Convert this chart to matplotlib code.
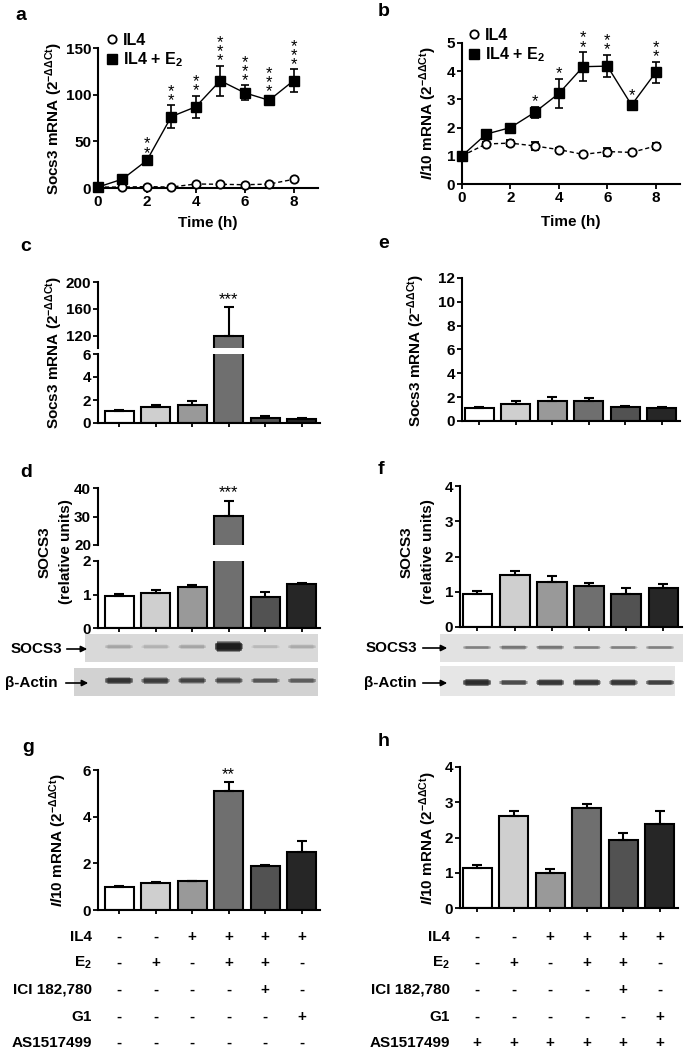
import numpy as np
import matplotlib
matplotlib.use("Agg")
import matplotlib.pyplot as plt
from matplotlib.lines import Line2D
from matplotlib.patches import FancyArrowPatch
from matplotlib.transforms import blended_transform_factory

# --- datos ---
time_h = [0, 1, 2, 3, 4, 5, 6, 7, 8]

socs3_il4 = [1, 1, 1.5, 1, 4.3, 4, 3.5, 4.2, 9.3]
socs3_il4_err = [0.3, 0.5, 0.6, 0.5, 1.0, 0.8, 0.8, 0.8, 1.5]
socs3_e2 = [1, 9.5, 29.6, 76.5, 87, 115, 102, 94, 115]
socs3_e2_err = [0.5, 1.5, 2.5, 12, 12, 16, 8, 4, 12]
socs3_stars = ["", "", "**", "**", "**", "***", "***", "***", "***"]

il10_il4 = [1, 1.42, 1.45, 1.35, 1.22, 1.05, 1.15, 1.12, 1.35]
il10_il4_err = [0.05, 0.06, 0.12, 0.13, 0.05, 0.05, 0.14, 0.05, 0.12]
il10_e2 = [1, 1.77, 2.0, 2.54, 3.21, 4.16, 4.18, 2.8, 3.96]
il10_e2_err = [0.06, 0.08, 0.1, 0.2, 0.52, 0.52, 0.4, 0.16, 0.38]
il10_stars = ["", "", "", "*", "*", "**", "**", "*", "**"]

lanes = [0, 1, 2, 3, 4, 5]
bar_colors = ["white", "#cfcfcf", "#999999", "#6f6f6f", "#525252", "#262626"]

c_vals = [1.05, 1.35, 1.6, 120, 0.45, 0.35]
c_err = [0.1, 0.2, 0.3, 43, 0.15, 0.05]
e_vals = [1.05, 1.45, 1.65, 1.7, 1.2, 1.1]
e_err = [0.12, 0.25, 0.4, 0.22, 0.08, 0.08]
d_vals = [0.95, 1.04, 1.23, 30.2, 0.92, 1.3]
d_err = [0.06, 0.1, 0.04, 5.4, 0.15, 0.04]
f_vals = [0.95, 1.47, 1.28, 1.16, 0.95, 1.11]
f_err = [0.07, 0.11, 0.17, 0.1, 0.17, 0.12]
g_vals = [1.0, 1.15, 1.24, 5.1, 1.88, 2.5]
g_err = [0.03, 0.05, 0.02, 0.38, 0.05, 0.45]
h_vals = [1.13, 2.6, 1.0, 2.83, 1.93, 2.38]
h_err = [0.09, 0.15, 0.1, 0.12, 0.2, 0.38]

# intensidad (0-1) y grosor relativo de cada banda del western blot
d_socs3_band = [0.25, 0.18, 0.25, 0.92, 0.15, 0.22]
d_socs3_thick = [0.11, 0.11, 0.11, 0.26, 0.1, 0.11]
d_actin_band = [0.8, 0.75, 0.72, 0.7, 0.62, 0.58]
d_actin_thick = [0.17, 0.16, 0.15, 0.15, 0.13, 0.13]
f_socs3_band = [0.45, 0.5, 0.5, 0.45, 0.45, 0.45]
f_socs3_thick = [0.09, 0.1, 0.1, 0.09, 0.09, 0.09]
f_actin_band = [0.85, 0.7, 0.8, 0.8, 0.8, 0.75]
f_actin_thick = [0.16, 0.13, 0.15, 0.15, 0.15, 0.13]

row_labels = ["IL4", r"E$_{\mathrm{2}}$", "ICI 182,780", "G1", "AS1517499"]
il4_row = ["-", "-", "+", "+", "+", "+"]
e2_row = ["-", "+", "-", "+", "+", "-"]
ici_row = ["-", "-", "-", "-", "+", "-"]
g1_row = ["-", "-", "-", "-", "-", "+"]
as_left_row = ["-", "-", "-", "-", "-", "-"]
as_right_row = ["+", "+", "+", "+", "+", "+"]

# --- estilo ---
plt.rcParams.update({
    "font.family": ["Liberation Sans", "DejaVu Sans"],
    "font.weight": "bold",
    "axes.labelweight": "bold",
    "mathtext.fontset": "custom",
    "mathtext.rm": "Liberation Sans:bold",
    "mathtext.bf": "Liberation Sans:bold",
    "mathtext.it": "Liberation Sans:italic:bold",
    "axes.linewidth": 1.5,
    "xtick.major.width": 1.3,
    "ytick.major.width": 1.3,
    "xtick.major.size": 3.5,
    "ytick.major.size": 3.5,
    "xtick.labelsize": 11,
    "ytick.labelsize": 11,
    "xtick.major.pad": 1.5,
    "ytick.major.pad": 1.5,
})

W, H = 685, 1053
fig = plt.figure(figsize=(W / 100, H / 100), dpi=100)


def rect(x0, y0, x1, y1):
    return [x0 / W, 1 - y1 / H, (x1 - x0) / W, (y1 - y0) / H]


def ftext(x, y, s, **kw):
    fig.text(x / W, 1 - y / H, s, **kw)


def clean(ax, bottom=True):
    ax.spines["right"].set_visible(False)
    ax.spines["top"].set_visible(False)
    ax.spines["bottom"].set_visible(bottom)


def bars(ax, vals, err, xlim, ylim, yticks, xaxis=True):
    ax.bar(lanes, vals, width=0.8, color=bar_colors, edgecolor="black",
           linewidth=1.5, yerr=[np.zeros(6), err], capsize=3.5,
           error_kw=dict(elinewidth=1.5, capthick=1.5, ecolor="black"))
    ax.set_xlim(*xlim)
    ax.set_ylim(*ylim)
    ax.set_yticks(yticks)
    clean(ax, bottom=xaxis)
    if xaxis:
        ax.set_xticks(lanes)
        ax.set_xticklabels([])
        ax.tick_params(axis="x", length=3)
    else:
        ax.set_xticks([])


def stars_above(ax, x, y, s, stacked=False, size=12):
    if stacked:
        s = "\n".join(s)
    ax.annotate(s, (x, y), xytext=(0, -2 if stacked else 0), textcoords="offset points",
                ha="center", va="bottom", fontsize=size, linespacing=0.52,
                fontweight="normal", annotation_clip=False)


def line_panel(ax, y1, e1, y2, e2, stars, ylim, yticks):
    ax.errorbar(time_h, y1, yerr=e1, fmt="o", ls="--", dashes=(3, 2), color="black",
                mfc="white", mec="black", ms=6, mew=1.3, lw=1, capsize=3,
                elinewidth=1.2, capthick=1.2, clip_on=False, zorder=3)
    ax.errorbar(time_h, y2, yerr=e2, fmt="s-", color="black", ms=6.5, lw=1,
                capsize=3, elinewidth=1.2, capthick=1.2, clip_on=False, zorder=4)
    for t, y, e, s in zip(time_h, y2, e2, stars):
        if s:
            stars_above(ax, t, y + e, s, stacked=True)
    ax.set_xlim(0, 9)
    ax.set_ylim(*ylim)
    ax.set_xticks([0, 2, 4, 6, 8])
    ax.set_yticks(yticks)
    clean(ax)


legend_handles = [
    Line2D([], [], marker="o", ls="none", mfc="white", mec="black", ms=6, mew=1.3),
    Line2D([], [], marker="s", ls="none", color="black", ms=6.5),
]
legend_labels = ["IL4", r"IL4 + E$_{\mathrm{2}}$"]


def legend(ax, x, y):
    ax.legend(legend_handles, legend_labels, loc="upper left",
              bbox_to_anchor=(x / W, 1 - y / H), bbox_transform=fig.transFigure,
              frameon=False, handlelength=0.7, handletextpad=0.35,
              borderaxespad=0, borderpad=0, labelspacing=0.15,
              prop=dict(size=11.5, weight="bold"))


def blot(x0, x1, y0, y1, lane0_px, intens, thick, bg, yc=0.5):
    ax = fig.add_axes(rect(x0, y0, x1, y1))
    ax.set_facecolor(bg)
    ax.set_xlim((x0 - lane0_px) / 36.6, (x1 - lane0_px) / 36.6)
    ax.set_ylim(0, 1)
    # capas superpuestas para un borde difuso de la banda
    n = 5
    for k in range(n):
        frac = 1.0 - k / n
        alphas = [1 - (1 - v) ** (1 / n) for v in intens]
        hh = [t * (0.5 + frac) for t in thick]
        bottoms = [yc - h / 2 for h in hh]
        ax.bar(lanes, hh, bottom=bottoms, width=0.62 + 0.2 * (1 - frac),
               color=[(0.05, 0.05, 0.05, a) for a in alphas], linewidth=0)
    ax.set_xticks([])
    ax.set_yticks([])
    for sp in ax.spines.values():
        sp.set_visible(False)
    return ax


def arrow_label(text, x_text, x0, x1, y):
    ftext(x_text, y, text, ha="right", va="center", fontsize=11)
    fig.add_artist(FancyArrowPatch(
        (x0 / W, 1 - y / H), (x1 / W, 1 - y / H), transform=fig.transFigure,
        arrowstyle="-|>", mutation_scale=9, lw=1.2, color="black", zorder=10))


ylab_socs3 = r"Socs3 mRNA (2$^{\mathrm{-ΔΔCt}}$)"
ylab_il10 = r"$\mathit{Il10}$ mRNA (2$^{\mathrm{-ΔΔCt}}$)"
left_xlim = (-0.58, 5.5)
right_xlim = (-0.47, 5.5)

# --- a ---
ax_a = fig.add_axes(rect(98, 48, 318, 188))
line_panel(ax_a, socs3_il4, socs3_il4_err, socs3_e2, socs3_e2_err, socs3_stars,
           (0, 150), [0, 50, 100, 150])
legend(ax_a, 106, 33)
ftext(54, 118, ylab_socs3, rotation=90, ha="center", va="center", fontsize=11)
ftext(208, 223, "Time (h)", ha="center", va="center", fontsize=11)
ftext(15, 15, "a", fontsize=14, va="center")

# --- b ---
ax_b = fig.add_axes(rect(462, 43, 680, 184))
line_panel(ax_b, il10_il4, il10_il4_err, il10_e2, il10_e2_err, il10_stars,
           (0, 5), [0, 1, 2, 3, 4, 5])
legend(ax_b, 468, 28)
ftext(428, 113, ylab_il10, rotation=90, ha="center", va="center", fontsize=11)
ftext(571, 222, "Time (h)", ha="center", va="center", fontsize=11)
ftext(378, 12, "b", fontsize=14, va="center")

# --- c (eje partido) ---
ax_c1 = fig.add_axes(rect(98, 282, 320, 348))
bars(ax_c1, c_vals, c_err, left_xlim, (102, 200), [120, 160, 200], xaxis=False)
ax_c2 = fig.add_axes(rect(98, 354, 320, 423))
bars(ax_c2, c_vals, c_err, left_xlim, (0, 6), [0, 2, 4, 6])
stars_above(ax_c1, 3, c_vals[3] + c_err[3], "***")
ftext(54, 352, ylab_socs3, rotation=90, ha="center", va="center", fontsize=11)
ftext(20, 247, "c", fontsize=14, va="center")

# --- e ---
ax_e = fig.add_axes(rect(462, 278, 680, 421))
bars(ax_e, e_vals, e_err, right_xlim, (0, 12), [0, 2, 4, 6, 8, 10, 12])
ftext(416, 350, ylab_socs3, rotation=90, ha="center", va="center", fontsize=11)
ftext(378, 243, "e", fontsize=14, va="center")

# --- d (eje partido + blot) ---
ax_d1 = fig.add_axes(rect(98, 488, 320, 545))
bars(ax_d1, d_vals, d_err, left_xlim, (20, 40), [20, 30, 40], xaxis=False)
ax_d2 = fig.add_axes(rect(98, 561, 320, 628))
bars(ax_d2, d_vals, d_err, left_xlim, (0, 2), [0, 1, 2])
stars_above(ax_d1, 3, d_vals[3] + d_err[3], "***")
ftext(45, 552, "SOCS3", rotation=90, ha="center", va="center", fontsize=11)
ftext(66, 552, "(relative units)", rotation=90, ha="center", va="center", fontsize=11)
ftext(20, 472, "d", fontsize=14, va="center")
blot(85, 318, 634, 662, 119, d_socs3_band, d_socs3_thick, "#d9d9d9", yc=0.55)
blot(74, 318, 668, 696, 119, d_actin_band, d_actin_thick, "#d2d2d2", yc=0.55)
arrow_label("SOCS3", 62, 64, 90, 649)
arrow_label("β-Actin", 58, 63, 91, 683)

# --- f ---
ax_f = fig.add_axes(rect(460, 486, 682, 627))
bars(ax_f, f_vals, f_err, right_xlim, (0, 4), [0, 1, 2, 3, 4])
ftext(407, 552, "SOCS3", rotation=90, ha="center", va="center", fontsize=11)
ftext(428, 552, "(relative units)", rotation=90, ha="center", va="center", fontsize=11)
ftext(378, 470, "f", fontsize=14, va="center")
blot(440, 683, 634, 662, 477, f_socs3_band, f_socs3_thick, "#e2e2e2", yc=0.52)
blot(440, 675, 666, 696, 477, f_actin_band, f_actin_thick, "#e6e6e6", yc=0.45)
arrow_label("SOCS3", 417, 420, 450, 648)
arrow_label("β-Actin", 417, 420, 450, 683)

# --- g ---
ax_g = fig.add_axes(rect(98, 770, 320, 910))
bars(ax_g, g_vals, g_err, left_xlim, (0, 6), [0, 2, 4, 6])
stars_above(ax_g, 3, g_vals[3] + g_err[3], "**")
ftext(58, 840, ylab_il10, rotation=90, ha="center", va="center", fontsize=11)
ftext(22, 748, "g", fontsize=14, va="center")

# --- h ---
ax_h = fig.add_axes(rect(460, 767, 678, 908))
bars(ax_h, h_vals, h_err, right_xlim, (0, 4), [0, 1, 2, 3, 4])
ftext(428, 838, ylab_il10, rotation=90, ha="center", va="center", fontsize=11)
ftext(378, 742, "h", fontsize=14, va="center")

# --- tabla de tratamientos ---
row_y = [937, 963, 990, 1017, 1043]
left_rows = [il4_row, e2_row, ici_row, g1_row, as_left_row]
right_rows = [il4_row, e2_row, ici_row, g1_row, as_right_row]
for ax, x_lab, rows in ((ax_g, 92, left_rows), (ax_h, 450, right_rows)):
    tr = blended_transform_factory(ax.transData, fig.transFigure)
    for y, lab, signs in zip(row_y, row_labels, rows):
        ftext(x_lab, y, lab, ha="right", va="center", fontsize=11)
        for i, s in zip(lanes, signs):
            ax.text(i, 1 - y / H, s, transform=tr, ha="center", va="center",
                    fontsize=11, fontweight="bold")

fig.savefig("out.png", dpi=100, facecolor="white")
